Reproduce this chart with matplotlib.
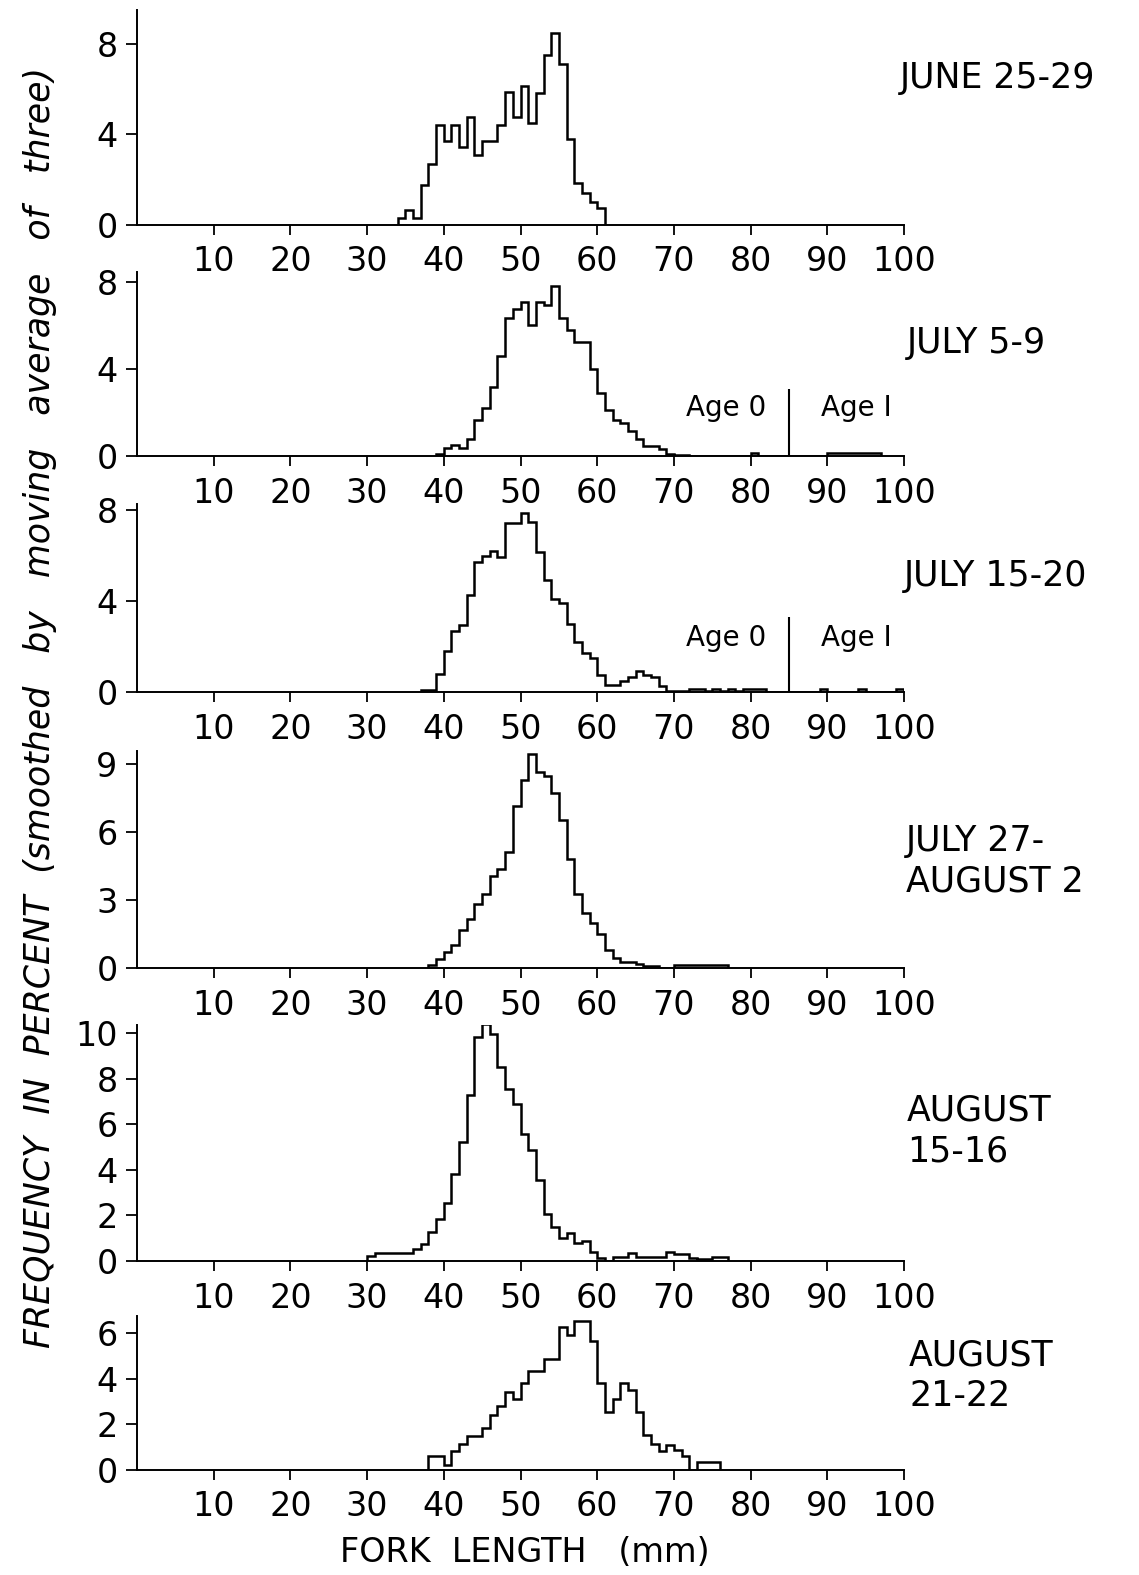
import numpy as np
import matplotlib.pyplot as plt

plt.rcParams['font.family'] = 'DejaVu Sans'

# fork length classes are 1 mm wide; each series starts at the given length
length_ticks = [10, 20, 30, 40, 50, 60, 70, 80, 90, 100]

june_start = 34
june_freq = [0.27, 0.66, 0.27, 1.74, 2.7, 4.4, 3.73, 4.4, 3.44, 4.76, 3.1, 3.73,
             3.73, 4.42, 5.9, 4.76, 6.17, 4.5, 5.83, 7.54, 8.5, 7.15, 3.8, 1.84,
             1.4, 1.0, 0.74]

jul5_start = 39
jul5_freq = [0.1, 0.35, 0.53, 0.35, 0.8, 1.68, 2.2, 3.18, 4.62, 6.38, 6.76, 7.1,
             6.06, 7.1, 6.94, 7.85, 6.38, 5.8, 5.27, 5.27, 4.0, 2.9, 2.1, 1.68,
             1.53, 1.14, 0.8, 0.47, 0.47, 0.32, 0.09, 0.05, 0.03,
             0, 0, 0, 0, 0, 0, 0, 0, 0.15, 0, 0, 0, 0, 0, 0, 0, 0, 0,
             0.12, 0.12, 0.12, 0.12, 0.12, 0.12, 0.12]

jul15_start = 37
jul15_freq = [0.08, 0.08, 0.79, 1.79, 2.7, 2.94, 4.29, 5.73, 5.98, 6.2, 5.95, 7.45,
              7.45, 7.9, 7.5, 6.17, 4.95, 4.11, 3.92, 3.0, 2.19, 1.72, 1.5, 0.73,
              0.32, 0.32, 0.47, 0.65, 0.91, 0.73, 0.65, 0.25, 0.03, 0.05, 0.05,
              0.15, 0.15, 0.05, 0.12, 0.03, 0.12, 0.03, 0.12, 0.12, 0.12,
              0, 0, 0, 0, 0, 0, 0, 0.12, 0, 0, 0, 0, 0.12, 0, 0, 0, 0, 0.12]

jul27_start = 38
jul27_freq = [0.15, 0.39, 0.7, 1.02, 1.67, 2.18, 2.84, 3.28, 4.05, 4.34, 5.1, 7.13,
              8.3, 9.43, 8.63, 8.44, 7.71, 6.5, 4.8, 3.25, 2.43, 1.97, 1.5, 0.8,
              0.44, 0.26, 0.26, 0.19, 0.07, 0.07, 0, 0,
              0.15, 0.15, 0.15, 0.15, 0.15, 0.15, 0.15]

aug15_start = 30
aug15_freq = [0.23, 0.34, 0.34, 0.34, 0.34, 0.34, 0.53, 0.75, 1.26, 1.83, 2.53,
              3.82, 5.23, 7.28, 9.84, 10.42, 9.96, 8.52, 7.57, 6.92, 5.6, 4.87,
              3.55, 2.05, 1.5, 1.02, 1.21, 0.77, 0.88, 0.41, 0.12, 0.02, 0.19,
              0.19, 0.34, 0.19, 0.19, 0.19, 0.19, 0.38, 0.29, 0.29, 0.15, 0.07,
              0.07, 0.16, 0.16]

aug21_start = 38
aug21_freq = [0.59, 0.59, 0.22, 0.8, 1.13, 1.49, 1.49, 1.82, 2.4, 2.78, 3.43, 3.1,
              3.81, 4.35, 4.35, 4.86, 4.86, 6.25, 5.9, 6.54, 6.54, 5.67, 3.79,
              2.52, 3.1, 3.81, 3.51, 2.55, 1.52, 1.13, 0.8, 1.08, 0.88, 0.59, 0,
              0.35, 0.35, 0.35]

# start, freqs, y ticks, date label
panels = [
    (june_start, june_freq, [0, 4, 8], 'JUNE 25-29'),
    (jul5_start, jul5_freq, [0, 4, 8], 'JULY 5-9'),
    (jul15_start, jul15_freq, [0, 4, 8], 'JULY 15-20'),
    (jul27_start, jul27_freq, [0, 3, 6, 9], 'JULY 27-\nAUGUST 2'),
    (aug15_start, aug15_freq, [0, 2, 4, 6, 8, 10], 'AUGUST\n15-16'),
    (aug21_start, aug21_freq, [0, 2, 4, 6], 'AUGUST\n21-22'),
]

W, H = 1139, 1575
fig = plt.figure(figsize=(W / 100, H / 100), dpi=100)

# pixel layout: (zero line y, top of y axis y, y top value, label x, label y)
layout = [
    (224.5, 10, 9.53, 900, 78),
    (456, 272, 8.48, 907, 343),
    (692, 504, 8.28, 904, 576),
    (968, 751, 9.56, 906, 861),
    (1261, 1025, 10.37, 907, 1131),
    (1469.6, 1316, 6.75, 909, 1376),
]

x0, x1 = 137, 904
axes = []
for (start, freq, yt, label), (yb, ytop_px, ytop, lx, ly) in zip(panels, layout):
    ax = fig.add_axes([x0 / W, 1 - yb / H, (x1 - x0) / W, (yb - ytop_px) / H])
    edges = np.arange(start, start + len(freq) + 1)
    ax.stairs(freq, edges, color='black', lw=1.8, baseline=0)
    ax.set_xlim(0, 100)
    ax.set_ylim(0, ytop)
    ax.set_xticks(length_ticks)
    ax.set_yticks(yt)
    for s in ['top', 'right']:
        ax.spines[s].set_visible(False)
    for s in ['left', 'bottom']:
        ax.spines[s].set_linewidth(1.4)
    ax.tick_params(axis='x', length=7, width=1.3, pad=8, labelsize=24)
    ax.tick_params(axis='y', length=8, width=1.3, pad=6, labelsize=24)
    ax.patch.set_alpha(0)
    fig.text(lx / W, 1 - ly / H, label, ha='left', va='center', fontsize=25,
             linespacing=1.25)
    axes.append(ax)

# age class divider on the July panels
for ax, top, ty in [(axes[1], 3.1, 2.2), (axes[2], 3.3, 2.4)]:
    ax.vlines(85, 0, top, color='black', lw=1.5)
    ax.text(76.8, ty, 'Age 0', ha='center', va='center', fontsize=20)
    ax.text(93.8, ty, 'Age I', ha='center', va='center', fontsize=20)

fig.text(525 / W, 1 - 1553 / H, 'FORK  LENGTH   (mm)', ha='center', va='center',
         fontsize=24)
fig.text(40 / W, 1 - 708 / H,
         'FREQUENCY  IN  PERCENT  (smoothed   by   moving   average   of   three)',
         ha='center', va='center', rotation=90, fontsize=25, style='italic')

fig.savefig('out.png', dpi=100)
